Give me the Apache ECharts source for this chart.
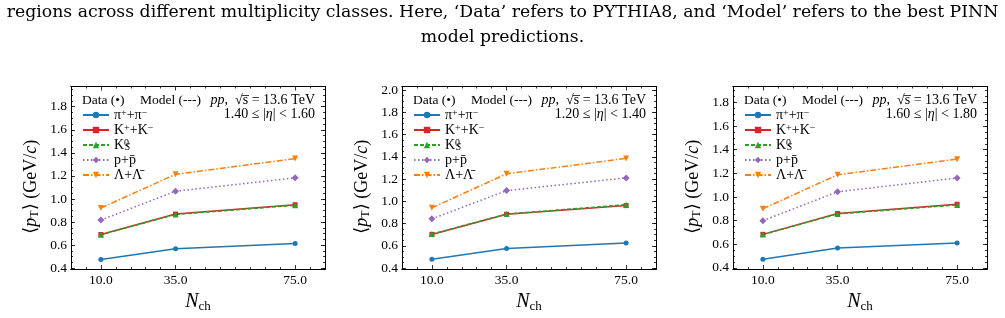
<!DOCTYPE html>
<html><head><meta charset="utf-8">
<script src="https://cdn.jsdelivr.net/npm/echarts@6/dist/echarts.min.js"></script>
<style>html,body{margin:0;padding:0;background:#fff}#c{width:1005px;height:318px}</style>
</head><body><div id="c"></div>
<script>
// ---------------- data ----------------
const nch = [10, 35, 75];
const xMajor = [10, 35, 75];
const xMinor = [5, 15, 20, 25, 30, 40, 45, 50, 55, 60, 65, 70, 80];
const speciesNames = ['pi', 'K', 'K0S', 'p', 'Lam'];
const etaLow = ['1.40', '1.20', '1.60'];
const etaHigh = ['1.60', '1.40', '1.80'];

// panel 1 : 1.40 <= |eta| < 1.60
const pi_1  = [0.475, 0.569, 0.614];
const K_1   = [0.692, 0.869, 0.950];
const K0S_1 = [0.690, 0.866, 0.945];
const p_1   = [0.817, 1.067, 1.183];
const Lam_1 = [0.922, 1.214, 1.350];
// panel 2 : 1.20 <= |eta| < 1.40
const pi_2  = [0.480, 0.577, 0.625];
const K_2   = [0.703, 0.884, 0.962];
const K0S_2 = [0.706, 0.886, 0.970];
const p_2   = [0.843, 1.097, 1.211];
const Lam_2 = [0.942, 1.248, 1.386];
// panel 3 : 1.60 <= |eta| < 1.80
const pi_3  = [0.473, 0.568, 0.611];
const K_3   = [0.684, 0.860, 0.939];
const K0S_3 = [0.682, 0.857, 0.933];
const p_3   = [0.800, 1.044, 1.161];
const Lam_3 = [0.901, 1.188, 1.320];

const yMin = [0.392, 0.391, 0.390];
const yMax = [1.975, 2.033, 1.935];
const yMajor1 = [0.4, 0.6, 0.8, 1.0, 1.2, 1.4, 1.6, 1.8];
const yMajor2 = [0.4, 0.6, 0.8, 1.0, 1.2, 1.4, 1.6, 1.8, 2.0];
const yMajor3 = [0.4, 0.6, 0.8, 1.0, 1.2, 1.4, 1.6, 1.8];

const panelVals = [
  {pi: pi_1, K: K_1, K0S: K0S_1, p: p_1, Lam: Lam_1},
  {pi: pi_2, K: K_2, K0S: K0S_2, p: p_2, Lam: Lam_2},
  {pi: pi_3, K: K_3, K0S: K0S_3, p: p_3, Lam: Lam_3}
];
const yMajors = [yMajor1, yMajor2, yMajor3];

const captionLine1 = 'regions across different multiplicity classes. Here, \u2018Data\u2019 refers to PYTHIA8, and \u2018Model\u2019 refers to the best PINN';
const captionLine2 = 'model predictions.';

// ---------------- styles ----------------
const SERIF = "'Liberation Serif', 'DejaVu Serif', serif";
const gridLeft = [71, 402, 733];
const gridTop = 86.5, gridW = 254, gridH = 190.5;

const spStyle = {
  pi:  {color: '#1f77b4', symbol: 'circle', size: 5, dash: 'solid'},
  K:   {color: '#d62728', symbol: 'rect', size: 5, dash: 'solid'},
  K0S: {color: '#2ca02c', symbol: 'triangle', size: 6, dash: [4, 2]},
  p:   {color: '#9467bd', symbol: 'diamond', size: 7, dash: [1.5, 2.5]},
  Lam: {color: '#ff7f0e', symbol: 'path://M0,0L10,0L5,9Z', size: 6, dash: [6, 2, 1.5, 2]}
};
const legendText = {
  pi: '\u03c0{sup|+}+\u03c0{sup|\u2212}',
  K: 'K{sup|+}+K{sup|\u2212}',
  K0S: 'K{zs|0}{sub|S}',
  p: 'p+p\u0304',
  Lam: '\u039b+\u039b\u0304'
};

function minorY(lo, hi) {
  const out = [];
  for (let k = Math.ceil(lo / 0.05 - 1e-9); k * 0.05 <= hi + 1e-9; k++) out.push(+(k * 0.05).toFixed(2));
  return out;
}

const grid = [], xAxis = [], yAxis = [], series = [], legend = [], graphic = [];

function axBase(g, min, max, pos, ticks, len) {
  return {
    gridIndex: g, type: 'value', min: min, max: max, position: pos,
    axisLine: {show: true, onZero: false, lineStyle: {color: '#000', width: 1}},
    axisTick: {show: true, inside: true, length: len, customValues: ticks, lineStyle: {color: '#000', width: 0.8}},
    axisLabel: {show: false},
    splitLine: {show: false}
  };
}

for (let g = 0; g < 3; g++) {
  const L = gridLeft[g];
  grid.push({left: L, top: gridTop, width: gridW, height: gridH, containLabel: false});

  // x axes
  const xm = axBase(g, 0, 85, 'bottom', xMajor, 4);
  xm.axisLabel = {show: true, customValues: xMajor, formatter: v => v.toFixed(1), margin: 4,
    color: '#000', fontFamily: SERIF, fontSize: 13.5};
  xm.name = '{i|N}{s|ch}';
  xm.nameLocation = 'middle';
  xm.nameGap = 14;
  xm.nameTextStyle = {color: '#000', fontFamily: SERIF, fontSize: 20,
    rich: {i: {fontFamily: SERIF, fontSize: 20, fontStyle: 'italic', color: '#000', lineHeight: 22},
           s: {fontFamily: SERIF, fontSize: 13, color: '#000', lineHeight: 8, verticalAlign: 'bottom'}}};
  xAxis.push(xm);
  xAxis.push(axBase(g, 0, 85, 'bottom', xMinor, 2));
  xAxis.push(axBase(g, 0, 85, 'top', xMajor, 4));
  xAxis.push(axBase(g, 0, 85, 'top', xMinor, 2));

  // y axes
  const ym = axBase(g, yMin[g], yMax[g], 'left', yMajors[g], 4);
  ym.axisLabel = {show: true, customValues: yMajors[g], formatter: v => v.toFixed(1), margin: 4,
    color: '#000', fontFamily: SERIF, fontSize: 13.5};
  ym.name = '\u27e8{i|p}{s|T}\u27e9 (GeV/{i|c})';
  ym.nameLocation = 'middle';
  ym.nameRotate = 90;
  ym.nameGap = 30;
  ym.nameTextStyle = {color: '#000', fontFamily: SERIF, fontSize: 18, padding: [0, 18, 0, 0],
    rich: {i: {fontFamily: SERIF, fontSize: 18, fontStyle: 'italic', color: '#000', lineHeight: 20},
           s: {fontFamily: SERIF, fontSize: 12, color: '#000', lineHeight: 6, verticalAlign: 'bottom'}}};
  yAxis.push(ym);
  const ymin = minorY(yMin[g], yMax[g]);
  yAxis.push(axBase(g, yMin[g], yMax[g], 'left', ymin, 2));
  yAxis.push(axBase(g, yMin[g], yMax[g], 'right', yMajors[g], 4));
  yAxis.push(axBase(g, yMin[g], yMax[g], 'right', ymin, 2));

  // series
  speciesNames.forEach(sp => {
    const st = spStyle[sp];
    series.push({
      type: 'line', name: sp, xAxisIndex: g * 4, yAxisIndex: g * 4,
      data: nch.map((x, i) => [x, panelVals[g][sp][i]]),
      symbol: st.symbol, symbolSize: st.size, showSymbol: true,
      lineStyle: {color: st.color, width: 1.5, type: st.dash},
      itemStyle: {color: st.color},
      animation: false, silent: true
    });
  });

  // legend
  legend.push({
    left: L + 11, top: 108, orient: 'vertical', itemWidth: 26, itemHeight: 8, itemGap: 1, padding: 0,
    selectedMode: false, data: speciesNames, formatter: n => legendText[n],
    textStyle: {fontFamily: SERIF, fontSize: 14, color: '#000', lineHeight: 14,
      rich: {
        sup: {fontFamily: SERIF, fontSize: 10, color: '#000', lineHeight: 6, verticalAlign: 'top'},
        sub: {fontFamily: SERIF, fontSize: 10, fontStyle: 'italic', color: '#000', lineHeight: 4, verticalAlign: 'bottom'},
        zs: {fontFamily: SERIF, fontSize: 10, color: '#000', lineHeight: 6, verticalAlign: 'top', width: 1}
      }}
  });

  // annotation texts
  graphic.push({type: 'text', silent: true, style: {x: L + 11, y: gridTop + 14, text: 'Data (\u2022)',
    font: `13.5px ${SERIF}`, fill: '#000', verticalAlign: 'middle'}});
  graphic.push({type: 'text', silent: true, style: {x: L + 69, y: gridTop + 14, text: 'Model (---)',
    font: `13.5px ${SERIF}`, fill: '#000', verticalAlign: 'middle'}});
  graphic.push({type: 'text', silent: true, style: {x: L + 244, y: gridTop + 14,
    text: '{i|pp},  \u221as\u0305 = 13.6 TeV',
    font: `14px ${SERIF}`, fill: '#000', align: 'right', verticalAlign: 'middle',
    rich: {i: {fontFamily: SERIF, fontSize: 14, fontStyle: 'italic', fill: '#000'}}}});
  graphic.push({type: 'text', silent: true, style: {x: L + 244, y: gridTop + 27.5,
    text: etaLow[g] + ' \u2264 |{i|\u03b7}| < ' + etaHigh[g],
    font: `14px ${SERIF}`, fill: '#000', align: 'right', verticalAlign: 'middle',
    rich: {i: {fontFamily: SERIF, fontSize: 14, fontStyle: 'italic', fill: '#000'}}}});
}

// caption
graphic.push({type: 'text', silent: true, style: {x: 502.5, y: 12.5, text: captionLine1,
  font: `17.3px 'DejaVu Serif', serif`, fill: '#000', align: 'center', verticalAlign: 'middle'}});
graphic.push({type: 'text', silent: true, style: {x: 502.5, y: 38, text: captionLine2,
  font: `17.3px 'DejaVu Serif', serif`, fill: '#000', align: 'center', verticalAlign: 'middle'}});

const chart = echarts.init(document.getElementById('c'), null, {renderer: 'canvas'});
chart.setOption({
  animation: false,
  backgroundColor: '#fff',
  grid, xAxis, yAxis, series, legend, graphic
});
</script>
</body></html>
